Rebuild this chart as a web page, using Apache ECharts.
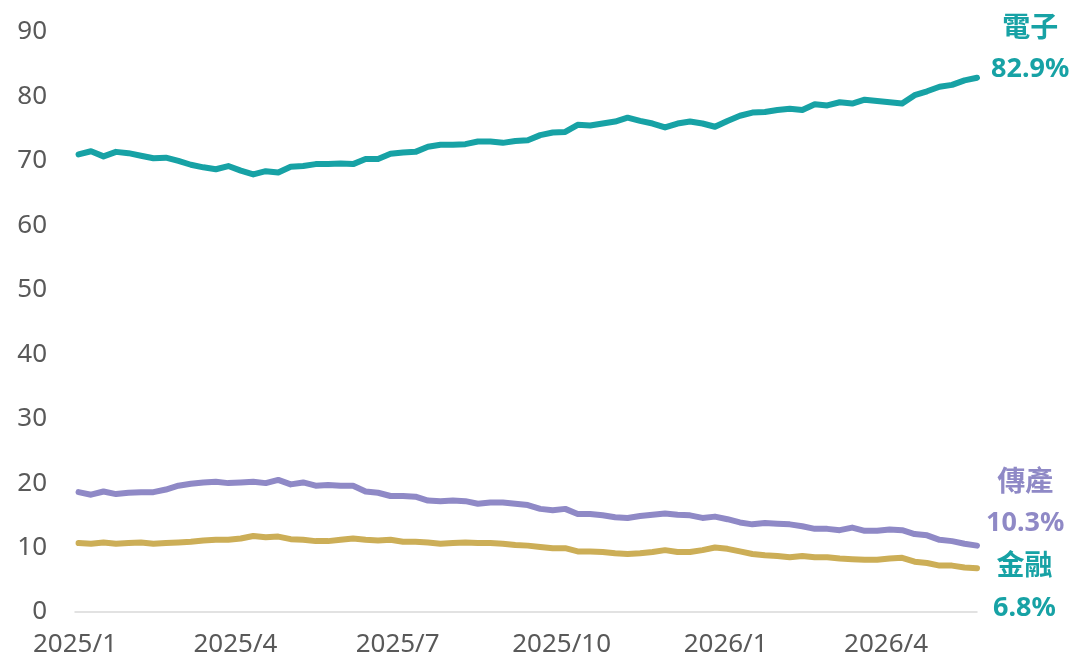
<!DOCTYPE html>
<html lang="zh-Hant">
<head>
    <meta charset="UTF-8">
    <title>electronics share</title>
    <style>
        * { padding: 0; margin: 0; }
        .EC { width: 1079px; height: 667px; }
    </style>
</head>
<body>
<div class="EC"></div>
<script src="https://cdn.jsdelivr.net/npm/echarts@6/dist/echarts.min.js"></script>
<script>
    // weekly points (Fridays) from 2025/1/3 to 2026/5/22
    const startDate = '2025-01-03'
    const weeks = 73
    const xLabelDates = ['2025-01-01', '2025-04-01', '2025-07-01', '2025-10-01', '2026-01-01', '2026-04-01']

    const elec = [71.0, 71.5, 70.7, 71.4, 71.2, 70.8, 70.4, 70.5, 70.0, 69.4,
        69.0, 68.7, 69.2, 68.5, 67.9, 68.4, 68.2, 69.1, 69.2, 69.5,
        69.5, 69.6, 69.5, 70.3, 70.3, 71.1, 71.3, 71.4, 72.2, 72.5,
        72.5, 72.6, 73.0, 73.0, 72.8, 73.1, 73.2, 74.0, 74.4, 74.5,
        75.6, 75.5, 75.8, 76.1, 76.7, 76.2, 75.8, 75.2, 75.8, 76.1,
        75.8, 75.3, 76.2, 77.0, 77.5, 77.6, 77.9, 78.1, 77.9, 78.8,
        78.6, 79.1, 78.9, 79.5, 79.3, 79.1, 78.9, 80.2, 80.8, 81.5,
        81.8, 82.5, 82.9]
    const trad = [18.6, 18.2, 18.7, 18.3, 18.5, 18.6, 18.6, 19.0, 19.6, 19.9,
        20.1, 20.2, 20.0, 20.1, 20.2, 20.0, 20.5, 19.8, 20.1, 19.6,
        19.7, 19.6, 19.6, 18.7, 18.5, 18.0, 18.0, 17.9, 17.3, 17.2,
        17.3, 17.2, 16.8, 17.0, 17.0, 16.8, 16.6, 16.0, 15.8, 16.0,
        15.2, 15.2, 15.0, 14.7, 14.6, 14.9, 15.1, 15.3, 15.1, 15.0,
        14.6, 14.8, 14.4, 13.9, 13.6, 13.8, 13.7, 13.6, 13.3, 12.9,
        12.9, 12.7, 13.1, 12.6, 12.6, 12.8, 12.7, 12.1, 11.9, 11.2,
        11.0, 10.6, 10.3]
    const fin = [10.7, 10.6, 10.8, 10.6, 10.7, 10.8, 10.6, 10.7, 10.8, 10.9,
        11.1, 11.2, 11.2, 11.4, 11.8, 11.6, 11.7, 11.3, 11.2, 11.0,
        11.0, 11.2, 11.4, 11.2, 11.1, 11.2, 10.9, 10.9, 10.8, 10.6,
        10.7, 10.8, 10.7, 10.7, 10.6, 10.4, 10.3, 10.1, 9.9, 9.9,
        9.4, 9.4, 9.3, 9.1, 9.0, 9.1, 9.3, 9.6, 9.3, 9.3,
        9.6, 10.0, 9.8, 9.4, 9.0, 8.8, 8.7, 8.5, 8.7, 8.5,
        8.5, 8.3, 8.2, 8.1, 8.1, 8.3, 8.4, 7.8, 7.6, 7.2,
        7.2, 6.9, 6.8]

    const names = ['電子', '傳產', '金融']
    const endTexts = ['82.9%', '10.3%', '6.8%']

    const FONT = '"Noto Sans", "Noto Sans CJK TC", sans-serif'
    const TEAL = '#17A2A5'
    const PURPLE = '#8F89C6'
    const GOLD = '#CCAE57'

    const DAY = 86400000
    const toTime = s => new Date(s + 'T00:00:00').getTime()
    const t0 = toTime(startDate)
    const dates = []
    for (let i = 0; i < weeks; i++) dates.push(t0 + i * 7 * DAY)
    const pairs = arr => arr.map((v, i) => [dates[i], v])

    const endLabel = (name, pct, color, offset) => ({
        show: true,
        offset: offset,
        formatter: '{n|' + name + '}\n{p|' + pct + '}',
        rich: {
            n: { fontFamily: FONT, fontSize: 28, fontWeight: 'bold', color: color, align: 'center', lineHeight: 42 },
            p: { fontFamily: FONT, fontSize: 27, fontWeight: 'bold', color: color, align: 'center', lineHeight: 40 }
        }
    })

    window.onload = () => {
        let EC = echarts.init(document.querySelector('.EC'))
        let option = {
            backgroundColor: '#fff',
            animation: false,
            grid: { left: 75, right: 102, top: 32, bottom: 55, containLabel: false },
            xAxis: {
                type: 'value',
                min: toTime('2025-01-01'),
                max: dates[dates.length - 1],
                axisLine: { show: true, lineStyle: { color: '#D9D9D9', width: 1.5 } },
                axisTick: { show: false },
                splitLine: { show: false },
                axisLabel: {
                    customValues: xLabelDates.map(toTime),
                    color: '#595959',
                    fontFamily: FONT,
                    fontSize: 26,
                    margin: 20,
                    formatter: v => {
                        let d = new Date(v)
                        return d.getFullYear() + '/' + (d.getMonth() + 1)
                    }
                }
            },
            yAxis: {
                type: 'value',
                min: 0,
                max: 90,
                interval: 10,
                axisLine: { show: false },
                axisTick: { show: false },
                splitLine: { show: false },
                axisLabel: { color: '#595959', fontFamily: FONT, fontSize: 26, margin: 28 }
            },
            series: [
                {
                    name: names[0], type: 'line', data: pairs(elec), symbol: 'none',
                    lineStyle: { color: TEAL, width: 6, cap: 'round', join: 'round' },
                    itemStyle: { color: TEAL },
                    endLabel: endLabel(names[0], endTexts[0], TEAL, [6, -29])
                },
                {
                    name: names[1], type: 'line', data: pairs(trad), symbol: 'none',
                    lineStyle: { color: PURPLE, width: 6, cap: 'round', join: 'round' },
                    itemStyle: { color: PURPLE },
                    endLabel: endLabel(names[1], endTexts[1], PURPLE, [1, -43])
                },
                {
                    name: names[2], type: 'line', data: pairs(fin), symbol: 'none',
                    lineStyle: { color: GOLD, width: 6, cap: 'round', join: 'round' },
                    itemStyle: { color: GOLD },
                    endLabel: endLabel(names[2], endTexts[2], TEAL, [8, 19])
                }
            ]
        }
        EC.setOption(option)
    }
</script>
</body>
</html>
